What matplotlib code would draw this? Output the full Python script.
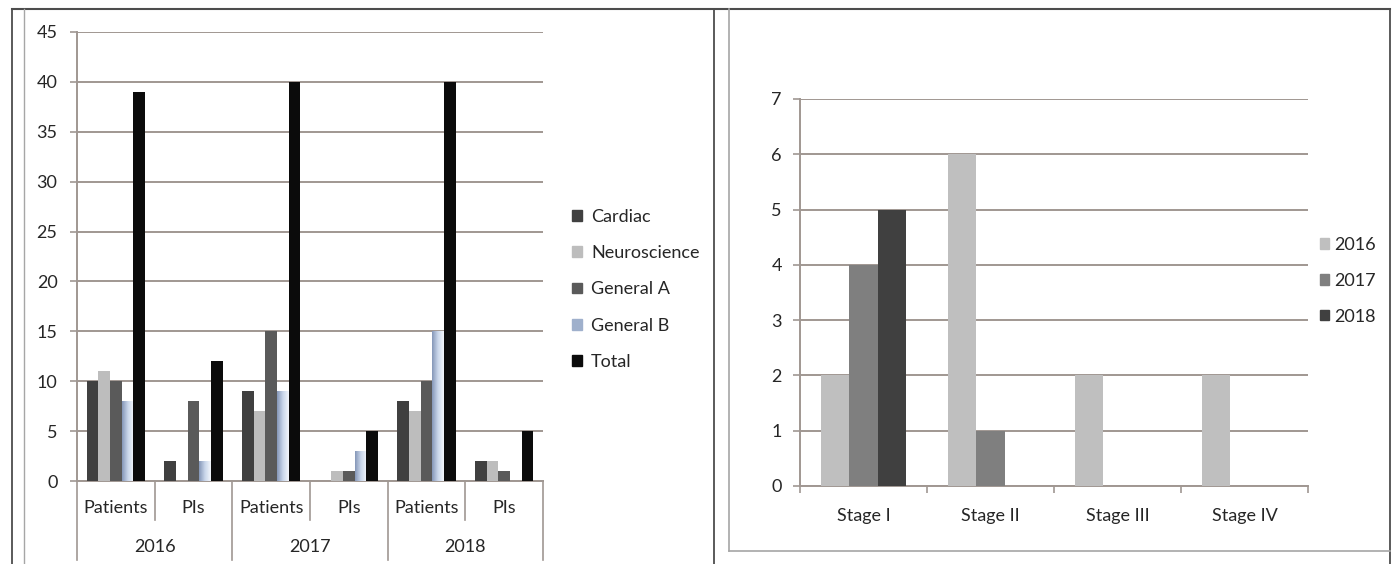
import numpy as np
import matplotlib
matplotlib.use("Agg")
import matplotlib.pyplot as plt
from matplotlib.lines import Line2D
from matplotlib.patches import Rectangle
from matplotlib.colors import LinearSegmentedColormap

plt.rcParams['font.family'] = ['Lato', 'DejaVu Sans']

# ---- data: studies per specialty ----
years = ["2016", "2017", "2018"]
kinds = ["Patients", "PIs"]
specialties = ["Cardiac", "Neuroscience", "General A", "General B", "Total"]
# order of groups: 2016 Patients, 2016 PIs, 2017 Patients, 2017 PIs, 2018 Patients, 2018 PIs
cardiac      = [10, 2, 9, 0, 8, 2]
neuroscience = [11, 0, 7, 1, 7, 2]
general_a    = [10, 8, 15, 1, 10, 1]
general_b    = [8, 2, 9, 3, 15, 0]
total        = [39, 12, 40, 5, 40, 5]

# ---- data: stage counts ----
stages = ["Stage I", "Stage II", "Stage III", "Stage IV"]
stage_years = ["2016", "2017", "2018"]
stage_2016 = [2, 6, 2, 2]
stage_2017 = [4, 1, 0, 0]
stage_2018 = [5, 0, 0, 0]

W, H = 1394, 564
FS = 13
fig = plt.figure(figsize=(W / 100, H / 100), dpi=100)
fig.patch.set_facecolor("white")

def fx(px):
    return px / W

def fy(py):
    return 1 - py / H

def frame_line(x0, y0, x1, y1, color, lw):
    fig.add_artist(Line2D([fx(x0), fx(x1)], [fy(y0), fy(y1)], color=color,
                          lw=lw, transform=fig.transFigure))

grid_c = "#a09792"
text_c = "#262626"

# ---------------- left chart ----------------
axL = fig.add_axes([fx(77), fy(481), fx(543) - fx(77), fy(32) - fy(481)])
series = [cardiac, neuroscience, general_a, general_b, total]
colors = ["#404040", "#bdbdbd", "#5a5a5a", None, "#0b0b0b"]
n = len(series)
bw = 0.75 / n
x = np.arange(len(total))
gradient = LinearSegmentedColormap.from_list("gb", ["#8597b8", "#c9d6ea", "#f3f6fb"])
grad_img = np.linspace(0, 1, 64).reshape(1, -1)
for i, (vals, col) in enumerate(zip(series, colors)):
    pos = x - 0.375 + bw * (i + 0.5)
    if col is None:
        bars = axL.bar(pos, vals, bw, color="#c9d6ea", linewidth=0, zorder=3)
        for b in bars:
            if b.get_height() <= 0:
                continue
            b.set_facecolor("none")
            im = axL.imshow(grad_img, cmap=gradient, aspect="auto", zorder=3,
                            extent=(b.get_x(), b.get_x() + b.get_width(), 0, b.get_height()))
            im.set_clip_path(b)
    else:
        axL.bar(pos, vals, bw, color=col, linewidth=0, zorder=3)

axL.set_xlim(-0.5, len(total) - 0.5)
axL.set_ylim(0, 45)
axL.set_yticks(np.arange(0, 46, 5))
axL.yaxis.grid(True, color=grid_c, lw=1.4, zorder=0)
axL.set_axisbelow(True)
axL.set_xticks([])
for s in ["top", "right"]:
    axL.spines[s].set_visible(False)
for s in ["left", "bottom"]:
    axL.spines[s].set_color(grid_c)
    axL.spines[s].set_linewidth(1.4)
axL.tick_params(axis="y", length=5, width=1.2, color=grid_c, labelsize=FS,
                labelcolor=text_c, pad=9)

trL = axL.get_xaxis_transform()
hL = 449.0
for k in range(len(total)):
    axL.text(k, -27 / hL, kinds[k % 2], transform=trL, ha="center", va="center",
             fontsize=FS, color=text_c)
for j, yr in enumerate(years):
    axL.text(2 * j + 0.5, -66 / hL, yr, transform=trL, ha="center", va="center",
             fontsize=FS, color=text_c)
# category separators below the axis
for k in range(len(total) + 1):
    bound = k - 0.5
    depth = -79 / hL if k % 2 == 0 else -39 / hL
    axL.plot([bound, bound], [0, depth], transform=trL, color=grid_c, lw=1.2,
             clip_on=False)

handles = [Rectangle((0, 0), 1, 1, color=c if c else "#9fb0cc") for c in colors]
legL = fig.legend(handles, specialties, loc="upper left",
                  bbox_to_anchor=(fx(572), fy(209)), frameon=False,
                  fontsize=FS, handlelength=0.55, handleheight=0.55,
                  handletextpad=0.5, labelspacing=1.12, borderpad=0,
                  borderaxespad=0)
for t in legL.get_texts():
    t.set_color(text_c)

# ---------------- right chart ----------------
axR = fig.add_axes([fx(800), fy(486), fx(1308) - fx(800), fy(99) - fy(486)])
svals = [stage_2016, stage_2017, stage_2018]
scolors = ["#bfbfbf", "#7f7f7f", "#404040"]
xs = np.arange(len(stages))
sbw = (2 / 3) / 3
for i, (vals, col) in enumerate(zip(svals, scolors)):
    pos = xs - 1 / 3 + sbw * (i + 0.5)
    axR.bar(pos, vals, sbw, color=col, linewidth=0, zorder=3)
axR.set_xlim(-0.5, len(stages) - 0.5)
axR.set_ylim(0, 7)
axR.set_yticks(range(0, 8))
axR.yaxis.grid(True, color=grid_c, lw=1.4, zorder=0)
axR.set_axisbelow(True)
axR.set_xticks(xs)
axR.set_xticklabels(stages)
axR.set_xticks(np.arange(-0.5, len(stages)), minor=True)
axR.tick_params(axis="x", which="major", length=0, labelsize=FS,
                labelcolor=text_c, pad=16)
axR.tick_params(axis="x", which="minor", length=5, width=1.2, color=grid_c,
                direction="out")
axR.tick_params(axis="y", length=5, width=1.2, color=grid_c, labelsize=FS,
                labelcolor=text_c, pad=8)
for s in ["top", "right"]:
    axR.spines[s].set_visible(False)
for s in ["left", "bottom"]:
    axR.spines[s].set_color(grid_c)
    axR.spines[s].set_linewidth(1.4)

handlesR = [Rectangle((0, 0), 1, 1, color=c) for c in scolors]
legR = fig.legend(handlesR, stage_years, loc="upper left",
                  bbox_to_anchor=(fx(1320), fy(237)), frameon=False,
                  fontsize=FS, handlelength=0.5, handleheight=0.5,
                  handletextpad=0.3, labelspacing=1.1, borderpad=0,
                  borderaxespad=0)
for t in legR.get_texts():
    t.set_color(text_c)

# ---------------- panel frames ----------------
dark = "#4d4d4d"
light = "#a6a6a6"
frame_line(12, 9, 1390, 9, dark, 1.5)
frame_line(12, 9, 12, 564, dark, 1.3)
frame_line(24, 9, 24, 564, light, 1.0)
frame_line(714, 9, 714, 564, dark, 1.3)
frame_line(1390, 9, 1390, 564, dark, 1.3)
frame_line(729, 9, 729, 551, light, 1.2)
frame_line(729, 551, 1390, 551, light, 1.2)

fig.savefig("out.png", dpi=100, facecolor="white")
